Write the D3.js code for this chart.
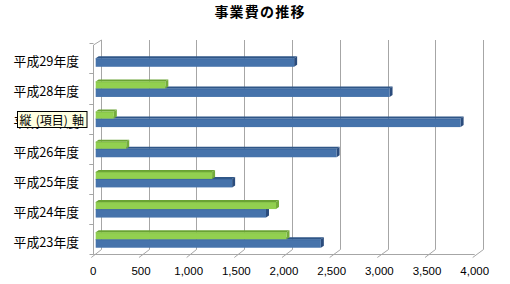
<!DOCTYPE html>
<html><head><meta charset="utf-8">
<script src="https://cdnjs.cloudflare.com/ajax/libs/d3/7.8.5/d3.min.js"></script>
<style>
html,body{margin:0;padding:0;background:#fff;}
svg{display:block;}
</style></head>
<body><svg id="c" width="510" height="284"></svg>
<script>
const title = "事業費の推移";
const categories = ["平成23年度","平成24年度","平成25年度","平成26年度","平成27年度","平成28年度","平成29年度"];
const seriesBlue = [2360, 1785, 1430, 2525, 3825, 3080, 2080];
const seriesGreen = [2000, 1890, 1220, 320, 190, 730, null];
const xTicks = [0, 500, 1000, 1500, 2000, 2500, 3000, 3500, 4000];
const tooltipText = "縦 (項目) 軸";

const svg = d3.select("#c");
const font = "'Noto Sans CJK JP','Noto Sans',sans-serif";

// scales: front plane, back plane, bar front face
const xFront = d3.scaleLinear().domain([0, 4000]).range([93.3, 474.7]);
const xBack = d3.scaleLinear().domain([0, 4000]).range([100.7, 483.3]);
const xBar = d3.scaleLinear().domain([0, 4000]).range([95.7, 477.3]);
const y = d3.scaleBand().domain(categories).range([254.3, 43.2]).padding(0);

const yBackTop = 40, yBackBot = 249.5, yFrontBot = 254.5, yFrontTop = 45;
const grid = "#a6a6a6";

// title
svg.append("text").attr("x", 260).attr("y", 17).attr("text-anchor", "middle")
  .attr("font-family", font).attr("font-size", 14).attr("font-weight", "bold")
  .attr("letter-spacing", 1.2).attr("fill", "#000").text(title);

// back wall gridlines + floor slants
const g = svg.append("g").attr("stroke", grid).attr("stroke-width", 1).attr("fill", "none");
xTicks.forEach(v => {
  const xb = Math.round(xBack(v)) + 0.5, xf = xFront(v);
  g.append("line").attr("x1", xb).attr("x2", xb).attr("y1", yBackTop).attr("y2", yBackBot);
  g.append("line").attr("x1", xb).attr("y1", yBackBot).attr("x2", xf - 2).attr("y2", yFrontBot + 3);
});
// left wall
const xl = Math.round(xFront(0)) + 0.5;
g.append("line").attr("x1", xl).attr("x2", xl).attr("y1", yFrontTop).attr("y2", yFrontBot);
g.append("line").attr("x1", xl).attr("y1", yFrontTop).attr("x2", Math.round(xBack(0)) + 0.5).attr("y2", yBackTop);
// floor front edge
g.append("line").attr("x1", xFront(0)).attr("x2", xFront(4000)).attr("y1", yFrontBot).attr("y2", yFrontBot);
// category ticks
categories.forEach(c => {
  [y(c), y(c) + y.bandwidth()].forEach(yy => {
    g.append("line").attr("x1", xl - 4).attr("x2", xl).attr("y1", Math.round(yy) + 0.5).attr("y2", Math.round(yy) + 0.5);
  });
});

// x tick labels
svg.append("g").selectAll("text").data(xTicks).join("text")
  .attr("x", d => xFront(d)).attr("y", 271).attr("dominant-baseline", "central")
  .attr("text-anchor", "middle").attr("font-family", "'Liberation Sans',Arial,sans-serif")
  .attr("font-size", 11.5).attr("fill", "#000").text(d3.format(","));

// bars (3D boxes)
const ddx = 3, ddy = 2;
function bar(parent, v, yTop, yBot, cols) {
  if (v == null) return;
  const x0 = xBar(0), x1 = xBar(v);
  const gb = parent.append("g");
  gb.append("polygon").attr("fill", cols.top)
    .attr("points", [[x0, yTop], [x1, yTop], [x1 + ddx, yTop - ddy], [x0 + ddx, yTop - ddy]].map(p => p.join(",")).join(" "));
  gb.append("polygon").attr("fill", cols.side)
    .attr("points", [[x1, yTop], [x1 + ddx, yTop - ddy], [x1 + ddx, yBot - ddy], [x1, yBot]].map(p => p.join(",")).join(" "));
  gb.append("rect").attr("x", x0).attr("y", yTop).attr("width", x1 - x0).attr("height", yBot - yTop).attr("fill", cols.front);
  gb.append("line").attr("x1", x0).attr("x2", x1).attr("y1", yTop + 0.5).attr("y2", yTop + 0.5)
    .attr("stroke", cols.edge).attr("stroke-width", 1).attr("opacity", 0.6);
}
const blueCols = {front: "#4673ab", top: "#2f5687", side: "#2b4c7c", edge: "#3a6399"};
const greenCols = {front: "#92d050", top: "#6aa334", side: "#74ac3c", edge: "#7dbb40"};
const bars = svg.append("g");
categories.forEach((c, i) => {
  const cy = y(c) + y.bandwidth() / 2;
  bar(bars, seriesBlue[i], cy, cy + 8.5, blueCols);
  bar(bars, seriesGreen[i], cy - 7, cy, greenCols);
});

// category labels
svg.append("g").selectAll("text").data(categories).join("text")
  .attr("x", 79).attr("y", d => y(d) + y.bandwidth() / 2 + 2.5)
  .attr("dominant-baseline", "central").attr("text-anchor", "end")
  .attr("font-family", font).attr("font-size", 12.8).attr("fill", "#000").text(d => d);

// tooltip box over 平成27年度
const tg = svg.append("g");
const tr = tg.append("rect").attr("fill", "#ffffe1").attr("stroke", "#000").attr("stroke-width", 1);
const tt = tg.append("text").attr("x", 19.5).attr("y", 119.5).attr("dominant-baseline", "central")
  .attr("font-family", font).attr("font-size", 12).attr("word-spacing", 1.5).attr("fill", "#000").text(tooltipText);
const bb = tt.node().getBBox();
tr.attr("x", 17.5).attr("y", 111.5).attr("width", Math.max(66, bb.width + 5)).attr("height", 16);
</script>
</body></html>
